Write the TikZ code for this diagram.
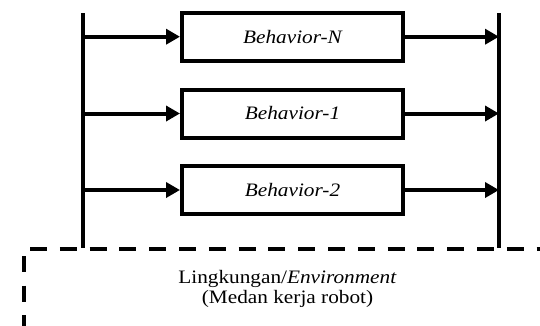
\documentclass[tikz,border=0pt]{standalone}
\usepackage{fontspec}
\setmainfont{Liberation Serif}
\usetikzlibrary{arrows.meta}

% horizontally widened text
\newcommand{\widetext}[1]{\scalebox{1.12}[1]{#1}}

\begin{document}
\begin{tikzpicture}[x=1pt,y=-1pt,
  font=\fontsize{19}{20}\selectfont,
  thick line/.style={line width=4pt},
  behbox/.style={draw, line width=4pt, minimum width=221pt, minimum height=48pt,
                 inner sep=0pt, font=\fontsize{19}{20}\selectfont\itshape},
  flow/.style={line width=4pt, -{Triangle[length=14pt,width=15pt]}},
  envline/.style={line width=4pt}
]
\useasboundingbox (0,0) rectangle (540,325);

% behaviour modules
\node[behbox] (bN) at (292.5,36.7) {\widetext{Behavior-N}};
\node[behbox] (b1) at (292.5,113.5) {\widetext{Behavior-1}};
\node[behbox] (b2) at (292.5,190) {\widetext{Behavior-2}};

% input and output buses
\coordinate (ltop) at (83,13);
\coordinate (lbot) at (83,247.5);
\coordinate (rtop) at (499,13);
\coordinate (rbot) at (499,247.5);
\draw[thick line] (ltop) -- (lbot);
\draw[thick line] (rtop) -- (rbot);

% connections bus -> behaviour -> bus
\foreach \b in {bN,b1,b2}{
  \draw[flow] (ltop |- \b.west) -- (\b.west);
  \draw[flow] (\b.east) -- (rtop |- \b.east);
}

% environment boundary
\coordinate (eh1) at (30,249);
\coordinate (eh2) at (545,249);
\coordinate (ev1) at (24,256);
\coordinate (ev2) at (24,330);
\draw[envline, dash pattern=on 17pt off 12.8pt] (eh1) -- (eh2);
\draw[envline, dash pattern=on 16pt off 13.5pt] (ev1) -- (ev2);

% environment label
\node[anchor=base] (env1) at (287.5,283) {\widetext{Lingkungan/\textit{Environment}}};
\node[anchor=base] (env2) at (287.5,303) {\widetext{(Medan kerja robot)}};
\end{tikzpicture}
\end{document}
